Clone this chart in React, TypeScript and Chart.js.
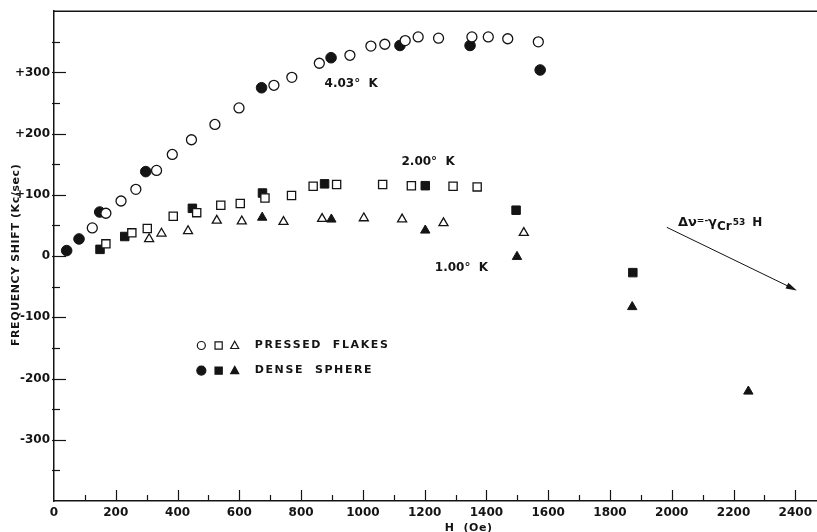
import React, { useEffect, useRef } from 'react';
import { Chart, registerables } from 'chart.js';

Chart.register(...registerables);

const FONT = '"DejaVu Sans", "Liberation Sans", sans-serif';
const INK = '#141414';

// ---- Data (H in Oe, frequency shift in kc/sec) ----
// 4.03 K
const flakes403H = [124, 168, 217, 265, 332, 383, 445, 521, 599, 712, 770, 859, 958, 1026, 1071, 1137, 1179, 1245, 1353, 1406, 1469, 1568];
const flakes403Shift = [46, 70, 90, 109, 140, 166, 190, 215, 242, 279, 292, 315, 328, 343, 346, 352, 358, 356, 358, 358, 355, 350];
const sphere403H = [41, 81, 148, 297, 672, 897, 1120, 1347, 1574];
const sphere403Shift = [9, 28, 72, 138, 275, 324, 344, 344, 304];

// 2.00 K
const flakes200H = [168, 252, 302, 386, 462, 540, 603, 683, 769, 839, 915, 1064, 1157, 1292, 1370];
const flakes200Shift = [20, 38, 45, 65, 71, 83, 86, 95, 99, 114, 117, 117, 115, 114, 113];
const sphere200H = [149, 229, 448, 675, 876, 1202, 1496, 1874];
const sphere200Shift = [11, 32, 78, 103, 118, 115, 75, -27];

// 1.00 K
const flakes100H = [308, 348, 434, 527, 608, 743, 868, 1003, 1127, 1261, 1521];
const flakes100Shift = [28, 37, 41, 58, 57, 56, 61, 62, 60, 54, 38];
const sphere100H = [674, 898, 1202, 1499, 1872, 2248];
const sphere100Shift = [63, 60, 42, -1, -83, -221];

// Axis
const xMin = 0;
const xMax = 2470;
const xLabelMax = 2400;
const yMin = -400;
const yMax = 400;

const yTitle = 'FREQUENCY SHIFT (Kc/sec)';
const xTitle = 'H  (Oe)';
const legendRows = ['PRESSED  FLAKES', 'DENSE  SPHERE'];
const tempLabels = [
  { text: '4.03°  K', h: 876, s: 281 },
  { text: '2.00°  K', h: 1125, s: 154 },
  { text: '1.00°  K', h: 1233, s: -19 },
];
// theoretical slope arrow (start / end in data coords)
const arrowH = [1984, 2405];
const arrowShift = [47, -56];

const pts = (h: number[], s: number[]) => h.map((x, i) => ({ x, y: s[i] }));

function drawMarker(ctx: CanvasRenderingContext2D, kind: string, filled: boolean, cx: number, cy: number, r: number) {
  ctx.beginPath();
  if (kind === 'circle') {
    ctx.arc(cx, cy, r, 0, Math.PI * 2);
  } else if (kind === 'rect') {
    ctx.rect(cx - r, cy - r, 2 * r, 2 * r);
  } else {
    ctx.moveTo(cx, cy - r * 1.05);
    ctx.lineTo(cx + r, cy + r * 0.75);
    ctx.lineTo(cx - r, cy + r * 0.75);
    ctx.closePath();
  }
  ctx.fillStyle = filled ? INK : '#ffffff';
  ctx.fill();
  ctx.lineWidth = 1.2;
  ctx.strokeStyle = INK;
  ctx.stroke();
}

const decor = {
  id: 'paperDecor',
  afterDraw(chart: any) {
    const { ctx, chartArea: ca } = chart;
    const x = chart.scales.x;
    const y = chart.scales.y;
    ctx.save();
    ctx.strokeStyle = INK;
    ctx.lineCap = 'butt';

    // top border
    ctx.lineWidth = 1.5;
    ctx.beginPath();
    ctx.moveTo(ca.left, ca.top);
    ctx.lineTo(chart.width, ca.top);
    ctx.stroke();

    // inward ticks
    ctx.lineWidth = 1.2;
    x.ticks.forEach((t: any) => {
      const v = t.value;
      if (v <= 0 || v > xLabelMax || v % 100 !== 0) return;
      const px = Math.round(x.getPixelForValue(v)) + 0.5;
      const len = v % 200 === 0 ? 11 : 6;
      ctx.beginPath();
      ctx.moveTo(px, ca.bottom);
      ctx.lineTo(px, ca.bottom - len);
      ctx.stroke();
    });
    y.ticks.forEach((t: any) => {
      const v = t.value;
      if (Math.abs(v) >= 400 || v % 50 !== 0) return;
      const py = Math.round(y.getPixelForValue(v)) + 0.5;
      const len = v % 100 === 0 ? 12 : 6;
      ctx.beginPath();
      ctx.moveTo(ca.left - 2, py);
      ctx.lineTo(ca.left + len, py);
      ctx.stroke();
    });

    ctx.fillStyle = INK;
    ctx.textBaseline = 'middle';
    ctx.textAlign = 'left';

    // temperature labels
    ctx.font = `bold 12px ${FONT}`;
    tempLabels.forEach((l) => {
      ctx.fillText(l.text, x.getPixelForValue(l.h), y.getPixelForValue(l.s));
    });

    // Δν = -γ_Cr53 H
    let tx = x.getPixelForValue(2020);
    const ty = y.getPixelForValue(54);
    ctx.font = `bold 13px ${FONT}`;
    ctx.fillText('Δν', tx, ty);
    tx += ctx.measureText('Δν').width;
    ctx.font = `bold 9px ${FONT}`;
    ctx.fillText('=-', tx, ty - 2);
    tx += ctx.measureText('=-').width;
    ctx.font = `bold 13px ${FONT}`;
    ctx.fillText('γ', tx, ty);
    tx += ctx.measureText('γ').width;
    ctx.font = `bold 12px ${FONT}`;
    ctx.fillText('Cr', tx, ty + 4);
    tx += ctx.measureText('Cr').width;
    ctx.font = `bold 9px ${FONT}`;
    ctx.fillText('53', tx + 1, ty);
    tx += ctx.measureText('53').width + 8;
    ctx.font = `bold 12px ${FONT}`;
    ctx.fillText('H', tx, ty);

    // arrow
    const ax0 = x.getPixelForValue(arrowH[0]);
    const ay0 = y.getPixelForValue(arrowShift[0]);
    const ax1 = x.getPixelForValue(arrowH[1]);
    const ay1 = y.getPixelForValue(arrowShift[1]);
    const ang = Math.atan2(ay1 - ay0, ax1 - ax0);
    const hl = 11;
    const hw = 3.2;
    ctx.lineWidth = 1;
    ctx.beginPath();
    ctx.moveTo(ax0, ay0);
    ctx.lineTo(ax1 - Math.cos(ang) * hl * 0.8, ay1 - Math.sin(ang) * hl * 0.8);
    ctx.stroke();
    ctx.beginPath();
    ctx.moveTo(ax1, ay1);
    ctx.lineTo(ax1 - Math.cos(ang) * hl - Math.sin(ang) * hw, ay1 - Math.sin(ang) * hl + Math.cos(ang) * hw);
    ctx.lineTo(ax1 - Math.cos(ang) * hl + Math.sin(ang) * hw, ay1 - Math.sin(ang) * hl - Math.cos(ang) * hw);
    ctx.closePath();
    ctx.fill();

    // legend
    const legendMarkH = [477, 533, 585];
    const legendTextH = 650;
    const legendRowS = [-146, -187];
    const kinds = ['circle', 'rect', 'triangle'];
    legendRowS.forEach((s, row) => {
      const py = y.getPixelForValue(s);
      legendMarkH.forEach((h, i) => {
        const r = kinds[i] === 'rect' ? 3.6 : 4;
        drawMarker(ctx, kinds[i], row === 1, x.getPixelForValue(h), py, row === 1 && kinds[i] === 'circle' ? 4.5 : r);
      });
      ctx.fillStyle = INK;
      ctx.font = `bold 11px ${FONT}`;
      (ctx as any).letterSpacing = '1.6px';
      ctx.fillText(legendRows[row], x.getPixelForValue(legendTextH), py);
      (ctx as any).letterSpacing = '0px';
    });

    // axis titles
    ctx.font = `bold 11px ${FONT}`;
    (ctx as any).letterSpacing = '0.6px';
    ctx.textAlign = 'left';
    ctx.fillText(xTitle, x.getPixelForValue(1265), ca.bottom + 27);
    ctx.save();
    ctx.translate(16, y.getPixelForValue(2));
    ctx.rotate(-Math.PI / 2);
    ctx.textAlign = 'center';
    ctx.fillText(yTitle, 0, 0);
    ctx.restore();
    (ctx as any).letterSpacing = '0px';

    ctx.restore();
  },
};

export default function App() {
  const ref = useRef<HTMLCanvasElement | null>(null);

  useEffect(() => {
    if (!ref.current) return;
    const openStyle = { backgroundColor: '#ffffff', borderColor: INK, borderWidth: 1.3 };
    const fillStyle = { backgroundColor: INK, borderColor: INK, borderWidth: 1 };
    const chart = new Chart(ref.current, {
      type: 'scatter',
      data: {
        datasets: [
          { label: 'Pressed flakes 4.03 K', data: pts(flakes403H, flakes403Shift), pointStyle: 'circle', pointRadius: 5, order: 0, ...openStyle },
          { label: 'Pressed flakes 2.00 K', data: pts(flakes200H, flakes200Shift), pointStyle: 'rect', pointRadius: 5.8, order: 0, ...openStyle },
          { label: 'Pressed flakes 1.00 K', data: pts(flakes100H, flakes100Shift), pointStyle: 'triangle', pointRadius: 5.2, order: 0, ...openStyle },
          { label: 'Dense sphere 4.03 K', data: pts(sphere403H, sphere403Shift), pointStyle: 'circle', pointRadius: 5.3, order: 1, ...fillStyle },
          { label: 'Dense sphere 2.00 K', data: pts(sphere200H, sphere200Shift), pointStyle: 'rect', pointRadius: 6, order: 1, ...fillStyle },
          { label: 'Dense sphere 1.00 K', data: pts(sphere100H, sphere100Shift), pointStyle: 'triangle', pointRadius: 5.4, order: 1, ...fillStyle },
        ] as any,
      },
      options: {
        responsive: false,
        animation: false,
        events: [],
        layout: { autoPadding: false, padding: { top: 10, right: 0, left: 0, bottom: 0 } },
        plugins: { legend: { display: false }, tooltip: { enabled: false } },
        scales: {
          x: {
            type: 'linear',
            min: xMin,
            max: xMax,
            grid: { display: false, drawTicks: false },
            border: { display: true, color: INK, width: 1.5 },
            ticks: {
              stepSize: 100,
              autoSkip: false,
              includeBounds: false,
              maxRotation: 0,
              padding: 5,
              color: INK,
              font: { family: FONT, size: 12, weight: 'bold' },
              callback: (v: any) => (v % 200 === 0 && v <= xLabelMax ? String(v) : ''),
            },
            afterFit: (s: any) => {
              s.height = 31;
            },
          },
          y: {
            type: 'linear',
            min: yMin,
            max: yMax,
            grid: { display: false, drawTicks: false },
            border: { display: true, color: INK, width: 1.5 },
            ticks: {
              stepSize: 50,
              autoSkip: false,
              padding: 4,
              color: INK,
              font: { family: FONT, size: 12, weight: 'bold' },
              callback: (v: any) => {
                if (v % 100 !== 0 || Math.abs(v) >= 400) return '';
                return v > 0 ? '+' + v : String(v);
              },
            },
            afterFit: (s: any) => {
              s.width = 54;
            },
          },
        },
      } as any,
      plugins: [decor],
    });
    return () => chart.destroy();
  }, []);

  return (
    <div style={{ position: 'fixed', left: 0, top: 0, width: 817, height: 532, background: '#fff' }}>
      <canvas ref={ref} width={817} height={532} style={{ display: 'block', width: 817, height: 532 }} />
    </div>
  );
}
